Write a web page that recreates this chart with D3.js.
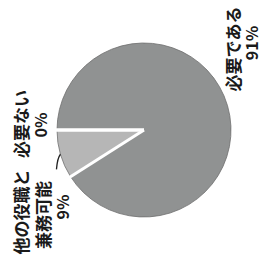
<!DOCTYPE html>
<html lang="ja">
<head>
    <meta charset="UTF-8">
    <title>pie</title>
    <script src="https://d3js.org/d3.v7.min.js"></script>
    <style>
        body { margin: 0; background: #fff; }
    </style>
</head>
<body>
    <div id="chart"></div>
    <script>
        // data
        var categories = ["必要である", "他の役職と兼務可能", "必要ない"];
        var values = [91, 9, 0];
        var labelLines = [["必要である", "91%"], ["他の役職と", "兼務可能", "9%"], ["必要ない", "0%"]];
        var colors = ["#909292", "#b6b6b6", "#d0d0d0"];

        var width = 267, height = 264,
            cx = 144, cy = 130, radius = 87;

        var svg = d3.select("#chart")
            .append("svg")
            .attr("width", width)
            .attr("height", height);

        // the whole chart is turned a quarter turn to the left
        var g = svg.append("g")
            .attr("transform", "translate(" + cx + "," + cy + ") rotate(-90)");

        var pie = d3.pie().sort(null).value(function(d){ return d; });
        var arcs = pie(values);

        var arc = d3.arc().innerRadius(0).outerRadius(radius);

        g.selectAll("path.slice")
            .data(arcs)
            .enter()
            .append("path")
            .attr("class", "slice")
            .attr("d", arc)
            .attr("fill", function(d, i){ return colors[i]; })
            .attr("stroke", "#6f6f6f")
            .attr("stroke-width", 0.8);

        // white separators at slice boundaries
        g.selectAll("line.sep")
            .data(arcs)
            .enter()
            .append("line")
            .attr("class", "sep")
            .attr("x1", 0).attr("y1", 0)
            .attr("x2", function(d){ return Math.sin(d.startAngle) * (radius + 1); })
            .attr("y2", function(d){ return -Math.cos(d.startAngle) * (radius + 1); })
            .attr("stroke", "#fff")
            .attr("stroke-width", 3);

        // leader for the small slice
        var s = arcs[1];
        var mid = (s.startAngle + s.endAngle) / 2;
        var a2 = mid - 0.14;
        var p0 = [Math.sin(mid) * radius, -Math.cos(mid) * radius];
        var p1 = [Math.sin(mid - 0.03) * (radius + 4), -Math.cos(mid - 0.03) * (radius + 4)];
        var p2 = [Math.sin(a2) * (radius + 9), -Math.cos(a2) * (radius + 9)];
        g.append("path")
            .attr("d", "M" + p0 + "Q" + p1 + " " + p2)
            .attr("fill", "none")
            .attr("stroke", "#222")
            .attr("stroke-width", 1.3);

        // label positions (unrotated frame, relative to centre)
        var labelPos = [[[81, 88], [87, 107]], [[-82, -124], [-85, -102], [-77, -82]], [[6, -124], [5, -104]]];
        var labelSize = [[17, 16], [17, 17, 16], [17, 16]];

        labelLines.forEach(function(lines, i){
            lines.forEach(function(t, j){
                g.append("text")
                    .attr("x", labelPos[i][j][0])
                    .attr("y", labelPos[i][j][1])
                    .attr("text-anchor", "middle")
                    .attr("dominant-baseline", "central")
                    .attr("font-family", "'Noto Sans CJK JP', sans-serif")
                    .attr("font-weight", "bold")
                    .attr("font-size", labelSize[i][j] + "px")
                    .attr("fill", "#1a1a1a")
                    .text(t);
            });
        });
    </script>
</body>
</html>
